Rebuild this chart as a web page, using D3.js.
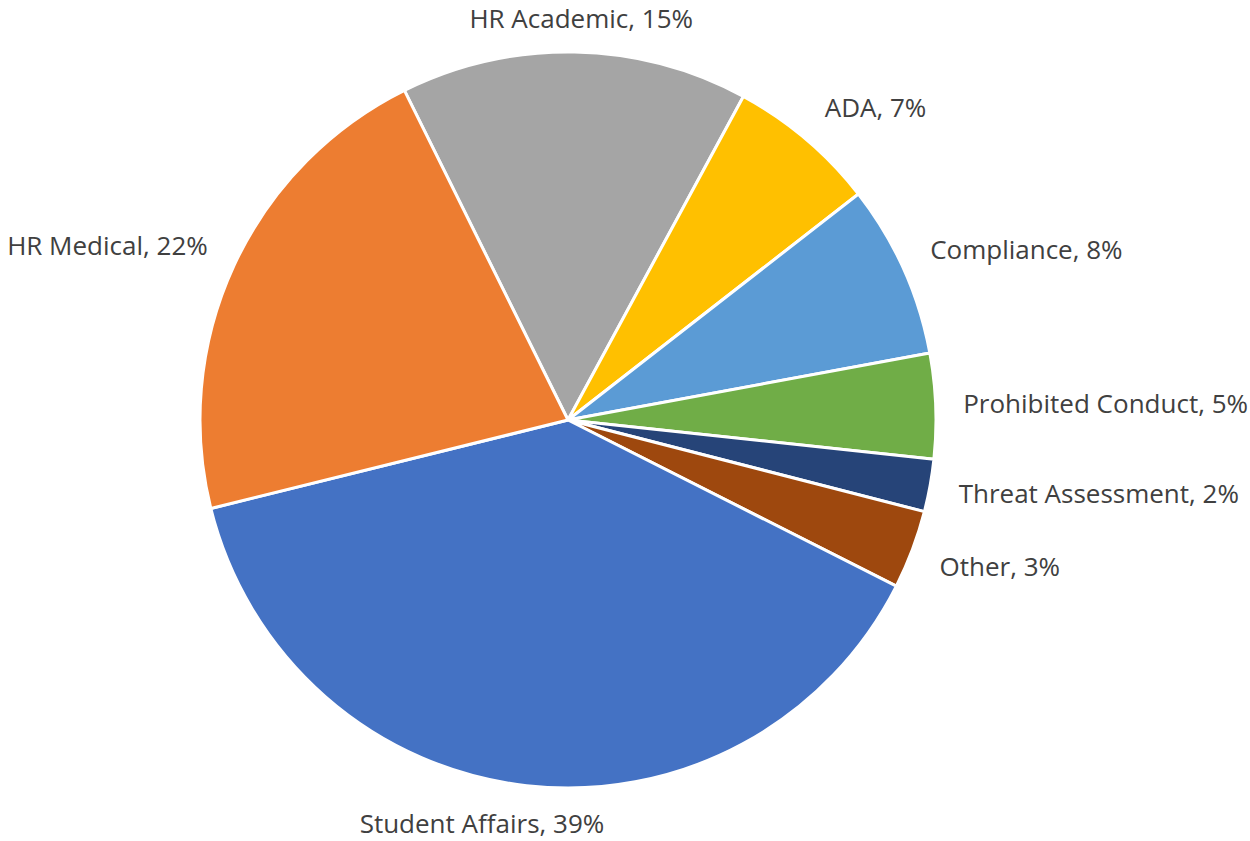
<!DOCTYPE html>
<html>
<head>
<meta charset="utf-8">
<script src="https://cdn.jsdelivr.net/npm/d3@7"></script>
<style>
  html, body { margin: 0; padding: 0; background: #ffffff; }
  svg { display: block; }
</style>
</head>
<body>
<svg id="chart" width="1250" height="841"></svg>
<script>
// Data (clockwise order, starting at the HR Medical / HR Academic boundary)
const categories = ["HR Academic", "ADA", "Compliance", "Prohibited Conduct", "Threat Assessment", "Other", "Student Affairs", "HR Medical"];
const values = [15.24, 6.57, 7.61, 4.61, 2.31, 3.45, 38.68, 21.53];
const percentLabels = ["15%", "7%", "8%", "5%", "2%", "3%", "39%", "22%"];
const colors = ["#A5A5A5", "#FFC000", "#5B9BD5", "#70AD47", "#264478", "#9E480E", "#4472C4", "#ED7D31"];

const W = 1250, H = 841;
const cx = 568, cy = 420, radius = 368;
const startDeg = -26.4;
const labelDist = 397;
const fontSize = 26;
const capH = 0.714 * fontSize;

const svg = d3.select("#chart");
const g = svg.append("g").attr("transform", `translate(${cx},${cy})`);

const data = categories.map((c, i) => ({ name: c, value: values[i], pct: percentLabels[i], color: colors[i] }));

const start = startDeg * Math.PI / 180;
const pie = d3.pie().value(d => d.value).sort(null).startAngle(start).endAngle(start + 2 * Math.PI);
const arc = d3.arc().innerRadius(0).outerRadius(radius);
const arcs = pie(data);

g.selectAll("path.slice")
  .data(arcs)
  .join("path")
  .attr("class", "slice")
  .attr("d", arc)
  .attr("fill", d => d.data.color)
  .attr("stroke", "#ffffff")
  .attr("stroke-width", 3)
  .attr("stroke-linejoin", "round");

const clamp = v => Math.max(0, Math.min(1, v));

g.selectAll("text.lbl")
  .data(arcs)
  .join("text")
  .attr("class", "lbl")
  .attr("font-family", "'Open Sans', sans-serif")
  .attr("font-size", fontSize)
  .attr("fill", "#404040")
  .text(d => `${d.data.name}, ${d.data.pct}`)
  .each(function(d) {
    const th = (d.startAngle + d.endAngle) / 2;
    const s = Math.sin(th), c = Math.cos(th);
    const px = labelDist * s, py = -labelDist * c;
    const w = this.getComputedTextLength();
    const ax = clamp(0.5 - 1.5 * s);
    let x = px - ax * w;
    const maxRight = W - cx - 2, minLeft = -cx + 2;
    if (x + w > maxRight) x = maxRight - w;
    if (x < minLeft) x = minLeft;
    const ay = clamp(0.5 + 1.0 * c);
    let y = py - ay * capH + capH;
    const sel = d3.select(this).attr("x", x).attr("y", y);
    // keep the whole text box inside the picture
    const bb = this.getBBox();
    if (bb.y < -cy) { y += (-cy - bb.y); }
    if (bb.y + bb.height > H - cy) { y -= (bb.y + bb.height - (H - cy)); }
    sel.attr("y", y);
  });
</script>
</body>
</html>
